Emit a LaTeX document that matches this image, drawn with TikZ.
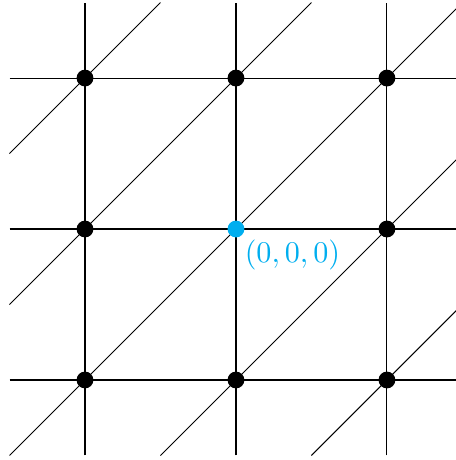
\documentclass[tikz,border=0pt]{standalone}
\definecolor{dotblue}{RGB}{0,174,239}
\begin{document}
\begin{tikzpicture}[x=1.93cm,y=1.93cm,
  gridline/.style={line width=0.4pt,black},
  diagline/.style={line width=0.35pt,black},
  latdot/.style={circle,fill=black,inner sep=0pt,minimum size=0.215cm},
  origdot/.style={circle,fill=dotblue,inner sep=0pt,minimum size=0.215cm},
  lbl/.style={text=dotblue,inner sep=0pt,font=\fontsize{10.5}{12}\selectfont}]
\clip (-1.563,-1.530) rectangle (1.457,1.517);
% horizontal and vertical lines
\foreach \v in {-1,0,1}{
  \draw[gridline] (-1.5,\v) -- (1.5,\v);
  \draw[gridline] (\v,-1.5) -- (\v,1.5);
}
% diagonals
\draw[diagline] (-1.5,0.5) -- (-0.5,1.5);
\draw[diagline] (-1.5,-0.5) -- (0.5,1.5);
\draw[diagline] (-1.5,-1.5) -- (1.5,1.5);
\draw[diagline] (-0.5,-1.5) -- (1.5,0.5);
\draw[diagline] (0.5,-1.5) -- (1.5,-0.5);
% lattice points
\node[latdot] (pmm) at (-1,-1) {};
\node[latdot] (pzm) at (0,-1) {};
\node[latdot] (ppm) at (1,-1) {};
\node[latdot] (pmz) at (-1,0) {};
\node[latdot] (ppz) at (1,0) {};
\node[latdot] (pmp) at (-1,1) {};
\node[latdot] (pzp) at (0,1) {};
\node[latdot] (ppp) at (1,1) {};
\node[origdot] (o) at (0,0) {};
\node[lbl] (olabel) at (0.374,-0.169) {$(0,0,0)$};
\end{tikzpicture}
\end{document}
